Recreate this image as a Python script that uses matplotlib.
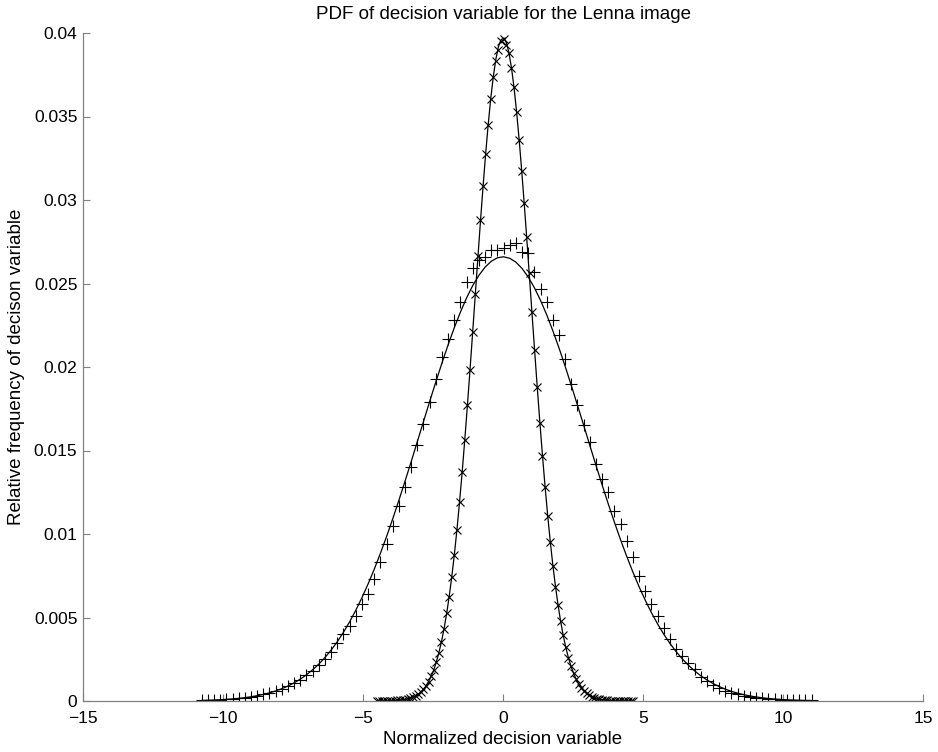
import numpy as np
import matplotlib
matplotlib.use("Agg")
import matplotlib.pyplot as plt
from matplotlib.ticker import FuncFormatter

plt.rcParams["font.family"] = ["Liberation Sans", "DejaVu Sans"]

# histogram bin centres (100 bins each)
wide_x = np.linspace(-10.76, 11.02, 100)
narrow_x = np.linspace(-4.51, 4.6475, 100)

# measured relative frequency, wide distribution (+)
wide_data = [
    0.00004, 0.00005, 0.00006, 0.00008, 0.00010, 0.00013, 0.00016, 0.00020, 0.00025, 0.00031,
    0.00039, 0.00048, 0.00059, 0.00072, 0.00088, 0.00106, 0.00128, 0.00153, 0.00182, 0.00215,
    0.00252, 0.00296, 0.00345, 0.00400, 0.00450, 0.00510, 0.00580, 0.00640, 0.00730, 0.00830,
    0.00940, 0.01050, 0.01170, 0.01280, 0.01400, 0.01530, 0.01660, 0.01790, 0.01930, 0.02060,
    0.02170, 0.02280, 0.02390, 0.02510, 0.02590, 0.02640, 0.02660, 0.02700, 0.02700, 0.02710,
    0.02730, 0.02740, 0.02690, 0.02680, 0.02570, 0.02470, 0.02390, 0.02280, 0.02190, 0.02050,
    0.01900, 0.01770, 0.01650, 0.01550, 0.01420, 0.01330, 0.01250, 0.01140, 0.01060, 0.00960,
    0.00860, 0.00750, 0.00660, 0.00580, 0.00510, 0.00440, 0.00370, 0.00310, 0.00270, 0.00230,
    0.00190, 0.00145, 0.00118, 0.00095, 0.00076, 0.00062, 0.00050, 0.00040, 0.00032, 0.00026,
    0.00020, 0.00016, 0.00013, 0.00010, 0.00008, 0.00007, 0.00006, 0.00005, 0.00004, 0.00003,
]

# gaussian fit, wide distribution
wide_fit = [
    3.43e-5, 4.49e-5, 5.84e-5, 7.56e-5, 9.74e-5, 1.247e-4, 1.587e-4, 2.009e-4, 2.530e-4, 3.168e-4,
    3.945e-4, 4.884e-4, 6.017e-4, 7.363e-4, 8.967e-4, 1.086e-3, 1.308e-3, 1.567e-3, 1.866e-3, 2.209e-3,
    2.601e-3, 3.046e-3, 3.549e-3, 4.110e-3, 4.735e-3, 5.424e-3, 6.179e-3, 7.001e-3, 7.884e-3, 8.837e-3,
    9.839e-3, 1.090e-2, 1.201e-2, 1.316e-2, 1.433e-2, 1.553e-2, 1.673e-2, 1.793e-2, 1.910e-2, 2.024e-2,
    2.133e-2, 2.235e-2, 2.329e-2, 2.414e-2, 2.488e-2, 2.549e-2, 2.598e-2, 2.633e-2, 2.654e-2, 2.660e-2,
    2.651e-2, 2.628e-2, 2.590e-2, 2.539e-2, 2.475e-2, 2.399e-2, 2.313e-2, 2.217e-2, 2.114e-2, 2.004e-2,
    1.889e-2, 1.771e-2, 1.652e-2, 1.531e-2, 1.412e-2, 1.294e-2, 1.180e-2, 1.070e-2, 9.650e-3, 8.656e-3,
    7.717e-3, 6.844e-3, 6.036e-3, 5.293e-3, 4.618e-3, 4.003e-3, 3.453e-3, 2.963e-3, 2.527e-3, 2.144e-3,
    1.809e-3, 1.516e-3, 1.264e-3, 1.048e-3, 8.65e-4, 7.10e-4, 5.79e-4, 4.70e-4, 3.79e-4, 3.04e-4,
    2.43e-4, 1.93e-4, 1.52e-4, 1.19e-4, 9.3e-5, 7.2e-5, 5.6e-5, 4.3e-5, 3.3e-5, 2.5e-5,
]

# measured relative frequency, narrow distribution (x)
narrow_data = [
    1.5e-6, 2.3e-6, 3.4e-6, 5.1e-6, 7.5e-6, 1.1e-5, 1.6e-5, 2.3e-5, 3.3e-5, 4.6e-5,
    6.4e-5, 8.9e-5, 1.23e-4, 1.67e-4, 2.26e-4, 3.03e-4, 4.03e-4, 5.31e-4, 6.94e-4, 8.99e-4,
    1.154e-3, 1.470e-3, 1.856e-3, 2.32e-3, 2.89e-3, 3.55e-3, 4.33e-3, 5.24e-3, 6.20e-3, 7.40e-3,
    8.75e-3, 1.025e-2, 1.190e-2, 1.370e-2, 1.560e-2, 1.770e-2, 1.985e-2, 2.210e-2, 2.440e-2, 2.665e-2,
    2.880e-2, 3.085e-2, 3.275e-2, 3.450e-2, 3.605e-2, 3.735e-2, 3.835e-2, 3.900e-2, 3.950e-2, 3.965e-2,
    3.930e-2, 3.880e-2, 3.790e-2, 3.675e-2, 3.525e-2, 3.360e-2, 3.175e-2, 2.985e-2, 2.780e-2, 2.560e-2,
    2.330e-2, 2.100e-2, 1.880e-2, 1.665e-2, 1.465e-2, 1.280e-2, 1.110e-2, 9.50e-3, 8.10e-3, 6.85e-3,
    5.76e-3, 4.78e-3, 3.93e-3, 3.21e-3, 2.60e-3, 2.09e-3, 1.66e-3, 1.31e-3, 1.02e-3, 7.94e-4,
    6.10e-4, 4.65e-4, 3.51e-4, 2.63e-4, 1.95e-4, 1.44e-4, 1.05e-4, 7.6e-5, 5.5e-5, 3.9e-5,
    2.7e-5, 1.9e-5, 1.3e-5, 9e-6, 6e-6, 4e-6, 3e-6, 2e-6, 1e-6, 1e-6,
]

# gaussian fit, narrow distribution
narrow_fit = [
    1.5e-6, 2.3e-6, 3.4e-6, 5.1e-6, 7.5e-6, 1.1e-5, 1.6e-5, 2.3e-5, 3.3e-5, 4.6e-5,
    6.4e-5, 8.9e-5, 1.23e-4, 1.67e-4, 2.26e-4, 3.03e-4, 4.03e-4, 5.31e-4, 6.94e-4, 8.99e-4,
    1.154e-3, 1.470e-3, 1.856e-3, 2.32e-3, 2.89e-3, 3.55e-3, 4.33e-3, 5.24e-3, 6.28e-3, 7.47e-3,
    8.81e-3, 1.030e-2, 1.195e-2, 1.372e-2, 1.564e-2, 1.767e-2, 1.979e-2, 2.198e-2, 2.420e-2, 2.642e-2,
    2.860e-2, 3.069e-2, 3.266e-2, 3.445e-2, 3.604e-2, 3.737e-2, 3.843e-2, 3.918e-2, 3.960e-2, 3.969e-2,
    3.944e-2, 3.885e-2, 3.795e-2, 3.676e-2, 3.529e-2, 3.360e-2, 3.172e-2, 2.968e-2, 2.755e-2, 2.534e-2,
    2.312e-2, 2.091e-2, 1.875e-2, 1.667e-2, 1.469e-2, 1.284e-2, 1.113e-2, 9.56e-3, 8.14e-3, 6.88e-3,
    5.76e-3, 4.78e-3, 3.93e-3, 3.21e-3, 2.60e-3, 2.09e-3, 1.66e-3, 1.31e-3, 1.02e-3, 7.94e-4,
    6.10e-4, 4.65e-4, 3.51e-4, 2.63e-4, 1.95e-4, 1.44e-4, 1.05e-4, 7.6e-5, 5.5e-5, 3.9e-5,
    2.7e-5, 1.9e-5, 1.3e-5, 9e-6, 6e-6, 4e-6, 3e-6, 2e-6, 1e-6, 1e-6,
]

x_ticks = [-15, -10, -5, 0, 5, 10, 15]
y_ticks = [0, 0.005, 0.01, 0.015, 0.02, 0.025, 0.03, 0.035, 0.04]

AXIS_GREY = "#808080"

fig = plt.figure(figsize=(9.38, 7.52), dpi=100)
ax = fig.add_axes([83 / 938, 51 / 752, 840 / 938, 668 / 752])

ax.plot(wide_x, wide_fit, color="black", linewidth=0.9)
ax.plot(narrow_x, narrow_fit, color="black", linewidth=0.9)
ax.plot(wide_x, wide_data, linestyle="none", marker="+", color="black",
        markersize=8, markeredgewidth=0.8)
ax.plot(narrow_x, narrow_data, linestyle="none", marker="x", color="black",
        markersize=6, markeredgewidth=0.8)

ax.set_xlim(-15, 15)
ax.set_ylim(0, 0.04)
ax.set_xticks(x_ticks)
ax.set_yticks(y_ticks)
ax.yaxis.set_major_formatter(FuncFormatter(lambda v, p: f"{v:g}"))
ax.xaxis.set_major_formatter(FuncFormatter(lambda v, p: f"{v:g}".replace("-", "\u2212")))

for side in ["top", "right"]:
    ax.spines[side].set_visible(False)
for side in ["left", "bottom"]:
    ax.spines[side].set_color(AXIS_GREY)
    ax.spines[side].set_linewidth(0.9)
ax.tick_params(direction="in", length=5, width=0.8, color=AXIS_GREY,
               labelsize=12.5, labelcolor="black")
ax.tick_params(axis="x", pad=7)
ax.tick_params(axis="y", pad=4)

ax.set_title("PDF of decision variable for the Lenna image", fontsize=13.5, pad=10)
ax.set_xlabel("Normalized decision variable", fontsize=13.5, labelpad=4)
ax.set_ylabel("Relative frequency of decison variable", fontsize=13.5, labelpad=6)

plt.savefig("out.png", dpi=100)
plt.close()
